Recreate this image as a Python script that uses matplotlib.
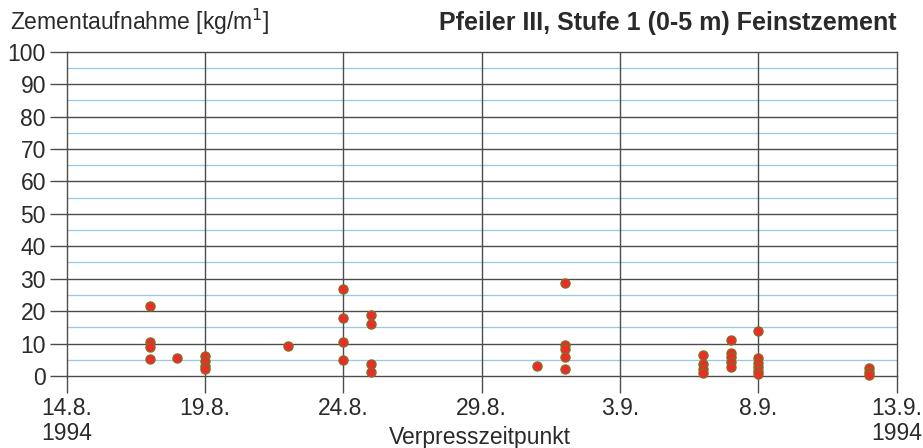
import datetime as dt

import matplotlib
matplotlib.use("Agg")
import matplotlib.pyplot as plt

plt.rcParams['font.family'] = ['Liberation Sans', 'DejaVu Sans']

# Verpresszeitpunkt (day in Aug/Sep 1994) and Zementaufnahme [kg/m]
days = ["17.8."] * 4 + ["18.8."] + ["19.8."] * 4 + ["22.8."] \
    + ["24.8."] * 4 + ["25.8."] * 4 + ["31.8."] + ["1.9."] * 5 \
    + ["6.9."] * 4 + ["7.9."] * 5 + ["8.9."] * 6 + ["12.9."] * 3
values = [21.7, 10.4, 9.0, 5.2,
          5.6,
          6.2, 4.6, 3.2, 2.1,
          9.2,
          26.7, 18.0, 10.4, 5.0,
          18.7, 16.1, 3.7, 1.2,
          3.2,
          28.8, 9.6, 8.2, 5.8, 2.2,
          6.5, 3.7, 2.3, 0.8,
          11.1, 7.2, 5.8, 4.3, 2.7,
          13.9, 5.4, 4.1, 2.9, 1.6, 0.5,
          2.4, 1.3, 0.3]

tick_days = ["14.8.", "19.8.", "24.8.", "29.8.", "3.9.", "8.9.", "13.9."]
tick_labels = ["14.8.\n1994", "19.8.", "24.8.", "29.8.", "3.9.", "8.9.", "13.9.\n1994"]


def to_date(s):
    d, m = s.strip(".").split(".")
    return dt.date(1994, int(m), int(d))


xs = [to_date(s) for s in days]
xt = [to_date(s) for s in tick_days]

dark = "#4d4d4d"
blue = "#95c9e6"
txt = "#2a2a2a"

fig = plt.figure(figsize=(9.23, 4.48), dpi=100)
ax = fig.add_axes([0.0723, 0.1607, 0.8992, 0.7239])

ax.set_xlim(xt[0], xt[-1])
ax.set_ylim(0, 100)

# light blue half lines
for v in range(5, 100, 10):
    ax.axhline(v, color=blue, lw=0.9, zorder=1, xmin=0.002)
# dark grid
for v in range(10, 100, 10):
    ax.axhline(v, color=dark, lw=1.0, zorder=1)
for d in xt[1:-1]:
    ax.axvline(d, color=dark, lw=1.0, zorder=1)

ax.plot(xs, values, 'o', ms=6.6, mfc="#ee2a2a", mec="#80701e", mew=0.9, zorder=3,
        clip_on=False)

ax.set_yticks(range(0, 101, 10))
ax.set_xticks(xt)
ax.set_xticklabels(tick_labels, linespacing=1.1)
ax.tick_params(axis='both', length=12, width=1.0, color=dark, labelsize=16.5,
               labelcolor=txt)
ax.tick_params(axis='y', pad=3)
ax.tick_params(axis='x', pad=3)
for s in ax.spines.values():
    s.set_color(dark)
    s.set_linewidth(1.0)

fig.text(0.011, 0.951, "Zementaufnahme [kg/m$^{1}$]", fontsize=16.5,
         color=txt, va="center", ha="left")
fig.text(0.9715, 0.948, "Pfeiler III, Stufe 1 (0-5 m) Feinstzement",
         fontsize=18, fontweight="bold", color=txt, va="center", ha="right")
fig.text(0.52, 0.024, "Verpresszeitpunkt", fontsize=16.5, color=txt,
         ha="center", va="center")

fig.savefig("out.png", dpi=100)
